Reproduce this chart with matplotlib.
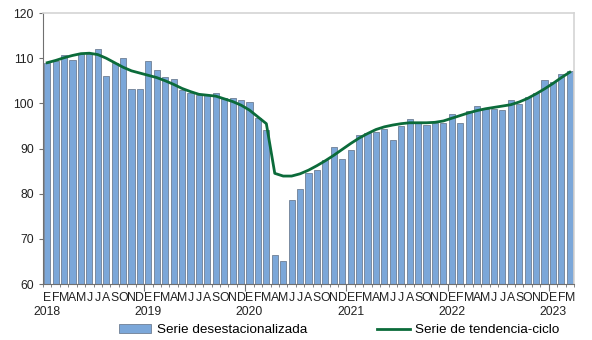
import matplotlib
matplotlib.use('Agg')
import matplotlib.pyplot as plt
import numpy as np

plt.rcParams['font.family'] = ['Liberation Sans', 'DejaVu Sans']

###################################
# Data (Jan 2018 - Mar 2023)

years = ['2018', '2019', '2020', '2021', '2022', '2023']
month_letters = ['E', 'F', 'M', 'A', 'M', 'J', 'J', 'A', 'S', 'O', 'N', 'D']

seasonally_adj = [
    109.0, 109.4, 110.7, 109.6, 110.9, 110.9, 112.0, 106.1, 109.0, 110.0, 103.1, 103.1,
    109.4, 107.4, 105.8, 105.3, 103.0, 102.4, 101.8, 101.8, 102.4, 101.2, 101.2, 100.7,
    100.2, 96.8, 94.2, 66.5, 65.0, 78.7, 81.0, 84.6, 85.2, 87.4, 90.4, 87.6,
    89.7, 92.9, 93.5, 93.7, 94.4, 91.9, 95.0, 96.6, 95.6, 95.3, 95.6, 95.6,
    97.6, 95.6, 98.3, 99.4, 98.8, 98.8, 98.5, 100.7, 99.9, 101.3, 102.2, 105.2,
    104.8, 106.5, 107.1,
]

trend_cycle = [
    109.0, 109.5, 110.1, 110.6, 111.0, 111.1, 110.8, 110.0, 109.0, 108.0, 107.2, 106.7,
    106.2, 105.7, 105.0, 104.2, 103.3, 102.6, 102.0, 101.8, 101.6, 101.0, 100.4, 99.6,
    98.5, 97.0, 95.5, 84.5, 83.9, 83.9, 84.4, 85.2, 86.2, 87.3, 88.5, 89.8,
    91.1, 92.3, 93.3, 94.2, 94.8, 95.2, 95.5, 95.7, 95.7, 95.7, 95.8, 96.1,
    96.7, 97.3, 97.9, 98.4, 98.8, 99.1, 99.4, 99.7, 100.3, 101.1, 102.1, 103.2,
    104.4, 105.7, 106.9,
]

n = len(seasonally_adj)
x = np.arange(n)
labels = [month_letters[i % 12] for i in range(n)]

###################################
# Plot

fig = plt.figure(figsize=(5.92, 3.40), dpi=100)
ax = fig.add_axes([0.0726, 0.1647, 0.897, 0.797])

bars = ax.bar(x, seasonally_adj, width=0.72, color='#7ba7d9', edgecolor='#6f7f94',
              linewidth=0.6, zorder=2)
line, = ax.plot(x, trend_cycle, color='#0b6b3a', linewidth=2.0, zorder=3)

ax.set_xlim(-0.5, n - 0.5)
ax.set_ylim(60, 120)
ax.set_yticks(range(60, 121, 10))

# spines
for side in ['top', 'right']:
    ax.spines[side].set_color('#d4d4d4')
    ax.spines[side].set_linewidth(1.2)
ax.spines['left'].set_color('#707070')
ax.spines['bottom'].set_color('#707070')

# month letters under each bar, small ticks at bar boundaries
ax.set_xticks(x)
ax.set_xticklabels(labels)
ax.set_xticks(np.arange(-0.5, n, 1), minor=True)
ax.tick_params(axis='x', which='major', length=0, pad=6, labelsize=8.8, colors='#222222')
ax.tick_params(axis='x', which='minor', length=2.5, color='#707070')
ax.tick_params(axis='y', length=3, color='#707070', labelsize=8.8, labelcolor='#222222')

# longer ticks at year boundaries
sep = ax.secondary_xaxis('bottom')
sep.set_xticks(np.arange(11.5, n, 12))
sep.set_xticklabels([])
sep.tick_params(length=5, color='#707070')
sep.spines['bottom'].set_visible(False)

# year labels under January
yr = ax.secondary_xaxis('bottom')
yr.set_xticks(np.arange(0, n, 12))
yr.set_xticklabels(years)
yr.tick_params(length=0, pad=16, labelsize=8.8, colors='#222222')
yr.spines['bottom'].set_visible(False)

fig.legend([bars, line], ['Serie desestacionalizada', 'Serie de tendencia-ciclo'],
           loc='lower center', bbox_to_anchor=(0.573, -0.025), ncol=2, frameon=False,
           fontsize=9.7, handlelength=2.4, handleheight=0.6, columnspacing=5.2,
           handletextpad=0.4)

fig.savefig('out.png', dpi=100)
